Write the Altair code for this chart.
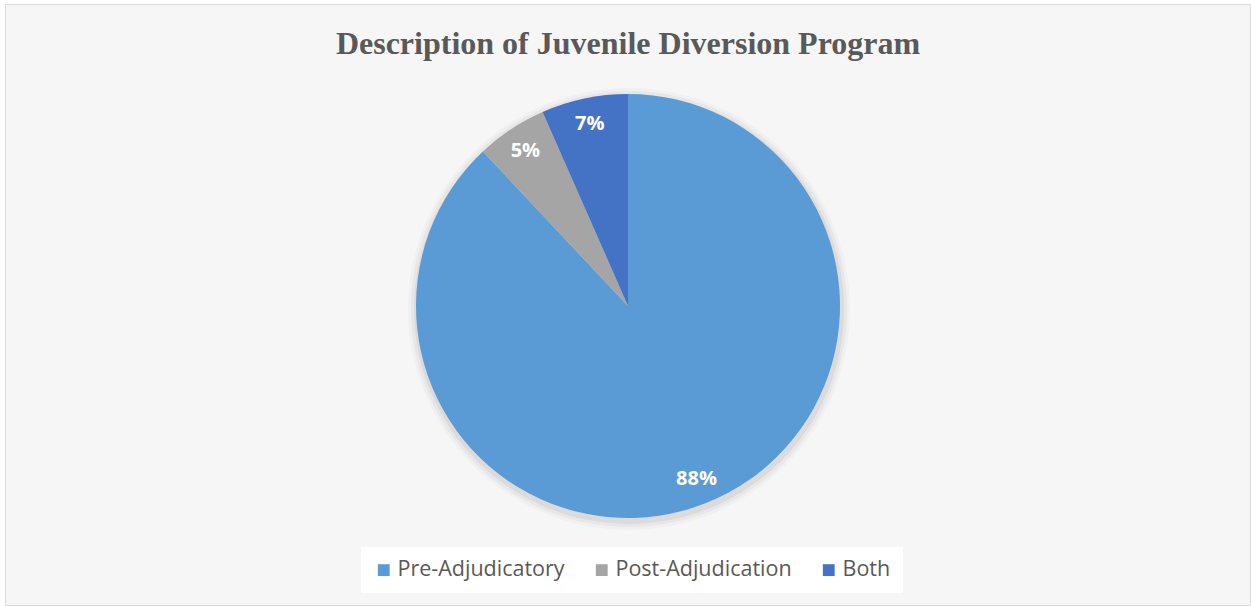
import altair as alt
import pandas as pd

# ---- data ----
categories = ["Pre-Adjudicatory", "Post-Adjudication", "Both"]
shares = [88.0, 5.4, 6.6]
labels = ["88%", "5%", "7%"]
colors = ["#5B9BD5", "#A5A5A5", "#4472C4"]
title_text = "Description of Juvenile Diversion Program"

df = pd.DataFrame({
    "category": categories,
    "share": shares,
    "label": labels,
    "order": list(range(len(categories))),
})

CX, CY = 623, 302   # pie centre in view coordinates
R = 212

base = alt.Chart(df).encode(
    theta=alt.Theta("share:Q", stack=True),
    order=alt.Order("order:Q"),
)

# soft shadow under the pie (one full disc built from the total)
shadow_base = alt.Chart(df).transform_aggregate(total="sum(share)").encode(
    theta=alt.Theta("total:Q")
)
shadows = [
    shadow_base.mark_arc(color="#000000", opacity=op).encode(
        x=alt.value(CX + 1), y=alt.value(CY + 3), radius=alt.value(R + d)
    )
    for d, op in [(9, 0.025), (6, 0.035), (3, 0.05)]
]

pie = base.mark_arc().encode(
    x=alt.value(CX), y=alt.value(CY), radius=alt.value(R),
    color=alt.Color(
        "category:N",
        scale=alt.Scale(domain=categories, range=colors),
        sort=categories,
        legend=alt.Legend(
            title=None, orient="none", legendX=356, legendY=543,
            direction="horizontal", fillColor="white", padding=12,
            symbolType="square", symbolSize=140, symbolStrokeWidth=0,
            labelFont="Open Sans", labelFontSize=21.5, labelColor="#595959",
            columnPadding=26, labelOffset=3, labelLimit=400,
        ),
    ),
)

text = base.mark_text(
    font="Open Sans", fontSize=20, fontWeight="bold", color="white"
).encode(
    x=alt.value(CX), y=alt.value(CY), radius=alt.value(186),
    text="label:N",
)

title = alt.Chart(pd.DataFrame({"t": [title_text]})).mark_text(
    font="Liberation Serif", fontSize=32, fontWeight="bold", color="#595959",
    baseline="alphabetic", align="center",
).encode(text="t:N", x=alt.value(CX), y=alt.value(50))

chart = alt.layer(*shadows, pie, text, title).properties(
    width=1245, height=601,
    autosize=alt.AutoSizeParams(type="none"),
    padding={"left": 5, "top": 4, "right": 1, "bottom": 1},
    background="white",
).configure_view(stroke="#d9d9d9", fill="#f6f6f6", strokeWidth=1)

chart.save("out.html", embed_options={"renderer": "svg", "actions": False})
